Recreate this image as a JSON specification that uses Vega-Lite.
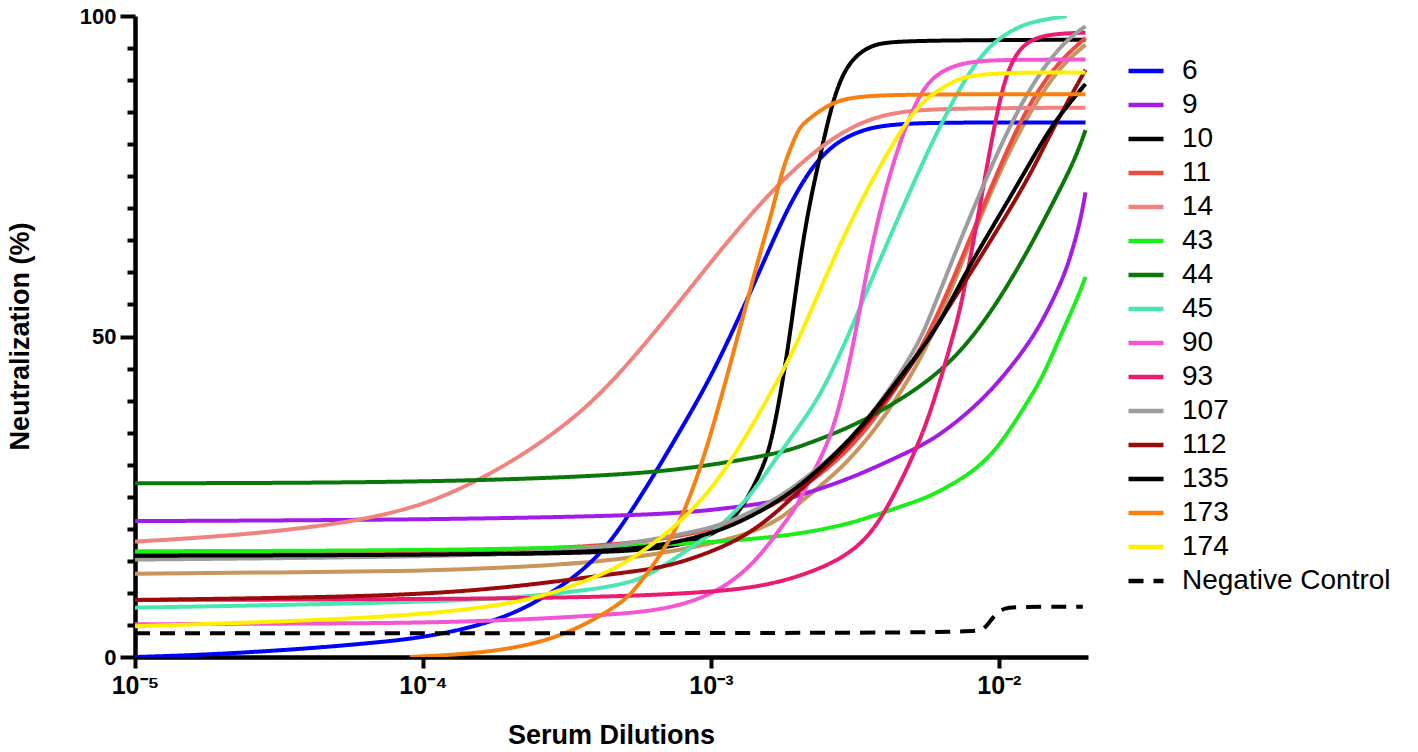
{
  "$schema": "https://vega.github.io/schema/vega-lite/v6.json",
  "width": 953,
  "height": 641,
  "autosize": {"type": "none"},
  "padding": {"left": 135, "top": 16, "right": 330, "bottom": 95},
  "background": "white",
  "datasets": {
    "curves": [
      {"s": "6", "x": 1e-5, "y": 0}, {"s": "6", "x": 1.681e-5, "y": 0.3}, {"s": "6", "x": 3.74e-5, "y": 1.2}, {"s": "6", "x": 7.092e-5, "y": 2.3},
      {"s": "6", "x": 9.763e-5, "y": 3.0}, {"s": "6", "x": 1.456e-4, "y": 4.5}, {"s": "6", "x": 2.172e-4, "y": 7.0}, {"s": "6", "x": 3.238e-4, "y": 11.8},
      {"s": "6", "x": 4.117e-4, "y": 16.0}, {"s": "6", "x": 4.831e-4, "y": 20.0}, {"s": "6", "x": 6.14e-4, "y": 27.3}, {"s": "6", "x": 7.994e-4, "y": 36.0},
      {"s": "6", "x": 1.016e-3, "y": 44.2}, {"s": "6", "x": 1.3335e-3, "y": 55.6}, {"s": "6", "x": 1.737e-3, "y": 67.5}, {"s": "6", "x": 1.989e-3, "y": 72.6},
      {"s": "6", "x": 2.26e-3, "y": 76.6}, {"s": "6", "x": 2.589e-3, "y": 79.4}, {"s": "6", "x": 2.966e-3, "y": 81.2}, {"s": "6", "x": 3.565e-3, "y": 82.6},
      {"s": "6", "x": 4.532e-3, "y": 83.2}, {"s": "6", "x": 6.759e-3, "y": 83.4}, {"s": "6", "x": 0.02, "y": 83.4},

      {"s": "9", "x": 1e-5, "y": 21.2}, {"s": "9", "x": 9.763e-5, "y": 21.4}, {"s": "9", "x": 4.831e-4, "y": 22.0}, {"s": "9", "x": 9.158e-4, "y": 22.6},
      {"s": "9", "x": 1.737e-3, "y": 24.3}, {"s": "9", "x": 2.087e-3, "y": 25.4}, {"s": "9", "x": 2.738e-3, "y": 27.1}, {"s": "9", "x": 3.565e-3, "y": 29.2},
      {"s": "9", "x": 4.642e-3, "y": 31.6}, {"s": "9", "x": 5.76e-3, "y": 33.6}, {"s": "9", "x": 7.32e-3, "y": 37.0}, {"s": "9", "x": 9.533e-3, "y": 41.7},
      {"s": "9", "x": 1.251e-2, "y": 48.4}, {"s": "9", "x": 1.4216e-2, "y": 52.6}, {"s": "9", "x": 1.54e-2, "y": 55.7}, {"s": "9", "x": 1.722e-2, "y": 60.4},
      {"s": "9", "x": 1.9104e-2, "y": 67.5}, {"s": "9", "x": 0.02, "y": 72.5},

      {"s": "10", "x": 1e-5, "y": 15.8}, {"s": "10", "x": 9.763e-5, "y": 15.9}, {"s": "10", "x": 4.117e-4, "y": 16.2}, {"s": "10", "x": 7.034e-4, "y": 17.0},
      {"s": "10", "x": 9.158e-4, "y": 18.3}, {"s": "10", "x": 1.075e-3, "y": 19.8}, {"s": "10", "x": 1.261e-3, "y": 22.5}, {"s": "10", "x": 1.48e-3, "y": 28.5},
      {"s": "10", "x": 1.603e-3, "y": 32.5}, {"s": "10", "x": 1.737e-3, "y": 40.5}, {"s": "10", "x": 1.88e-3, "y": 50.0}, {"s": "10", "x": 2.037e-3, "y": 62.0},
      {"s": "10", "x": 2.207e-3, "y": 71.0}, {"s": "10", "x": 2.39e-3, "y": 78.0}, {"s": "10", "x": 2.652e-3, "y": 87.0}, {"s": "10", "x": 2.966e-3, "y": 92.6},
      {"s": "10", "x": 3.565e-3, "y": 95.6}, {"s": "10", "x": 4.532e-3, "y": 96.2}, {"s": "10", "x": 0.02, "y": 96.3},

      {"s": "11", "x": 1e-5, "y": 16.0}, {"s": "11", "x": 9.763e-5, "y": 16.2}, {"s": "11", "x": 4.117e-4, "y": 17.2}, {"s": "11", "x": 7.034e-4, "y": 18.5},
      {"s": "11", "x": 1.049e-3, "y": 20.0}, {"s": "11", "x": 1.366e-3, "y": 22.0}, {"s": "11", "x": 1.737e-3, "y": 24.3}, {"s": "11", "x": 2.087e-3, "y": 26.5},
      {"s": "11", "x": 2.738e-3, "y": 30.5}, {"s": "11", "x": 3.565e-3, "y": 36.0}, {"s": "11", "x": 4.642e-3, "y": 43.5}, {"s": "11", "x": 5.76e-3, "y": 50.5},
      {"s": "11", "x": 7.499e-3, "y": 62.5}, {"s": "11", "x": 9.842e-3, "y": 75.5}, {"s": "11", "x": 1.212e-2, "y": 84.5}, {"s": "11", "x": 1.468e-2, "y": 90.5},
      {"s": "11", "x": 1.722e-2, "y": 94.0}, {"s": "11", "x": 0.02, "y": 96.6},

      {"s": "14", "x": 1e-5, "y": 18.0}, {"s": "14", "x": 1.681e-5, "y": 18.6}, {"s": "14", "x": 2.942e-5, "y": 19.5}, {"s": "14", "x": 4.87e-5, "y": 20.7},
      {"s": "14", "x": 7.092e-5, "y": 22.0}, {"s": "14", "x": 9.763e-5, "y": 23.7}, {"s": "14", "x": 1.2409e-4, "y": 25.5}, {"s": "14", "x": 1.668e-4, "y": 28.3},
      {"s": "14", "x": 2.172e-4, "y": 31.3}, {"s": "14", "x": 2.828e-4, "y": 34.8}, {"s": "14", "x": 3.711e-4, "y": 39.0}, {"s": "14", "x": 4.831e-4, "y": 44.3},
      {"s": "14", "x": 5.995e-4, "y": 49.2}, {"s": "14", "x": 7.805e-4, "y": 55.5}, {"s": "14", "x": 1.016e-3, "y": 62.0}, {"s": "14", "x": 1.3335e-3, "y": 68.4},
      {"s": "14", "x": 1.737e-3, "y": 74.0}, {"s": "14", "x": 2.26e-3, "y": 78.7}, {"s": "14", "x": 2.966e-3, "y": 82.4}, {"s": "14", "x": 3.863e-3, "y": 84.5},
      {"s": "14", "x": 5.029e-3, "y": 85.3}, {"s": "14", "x": 7.32e-3, "y": 85.6}, {"s": "14", "x": 0.02, "y": 85.7},

      {"s": "43", "x": 1e-5, "y": 16.5}, {"s": "43", "x": 9.763e-5, "y": 16.6}, {"s": "43", "x": 4.831e-4, "y": 17.2}, {"s": "43", "x": 9.158e-4, "y": 17.8},
      {"s": "43", "x": 1.737e-3, "y": 18.7}, {"s": "43", "x": 2.738e-3, "y": 20.3}, {"s": "43", "x": 3.565e-3, "y": 21.8}, {"s": "43", "x": 4.642e-3, "y": 23.6},
      {"s": "43", "x": 5.76e-3, "y": 25.0}, {"s": "43", "x": 7.32e-3, "y": 27.6}, {"s": "43", "x": 8.387e-3, "y": 29.5}, {"s": "43", "x": 9.533e-3, "y": 31.8},
      {"s": "43", "x": 1.092e-2, "y": 35.4}, {"s": "43", "x": 1.251e-2, "y": 39.6}, {"s": "43", "x": 1.4216e-2, "y": 43.7}, {"s": "43", "x": 1.6284e-2, "y": 49.9},
      {"s": "43", "x": 1.8652e-2, "y": 55.7}, {"s": "43", "x": 0.02, "y": 59.3},

      {"s": "44", "x": 1e-5, "y": 27.1}, {"s": "44", "x": 9.763e-5, "y": 27.2}, {"s": "44", "x": 4.831e-4, "y": 28.3}, {"s": "44", "x": 9.158e-4, "y": 29.6},
      {"s": "44", "x": 1.737e-3, "y": 31.8}, {"s": "44", "x": 2.087e-3, "y": 33.0}, {"s": "44", "x": 2.738e-3, "y": 35.0}, {"s": "44", "x": 3.565e-3, "y": 37.4},
      {"s": "44", "x": 4.642e-3, "y": 40.4}, {"s": "44", "x": 5.76e-3, "y": 43.3}, {"s": "44", "x": 7.32e-3, "y": 47.4}, {"s": "44", "x": 9.533e-3, "y": 54.1},
      {"s": "44", "x": 1.251e-2, "y": 63.0}, {"s": "44", "x": 1.54e-2, "y": 70.8}, {"s": "44", "x": 1.8357e-2, "y": 77.5}, {"s": "44", "x": 0.02, "y": 82.2},

      {"s": "45", "x": 1e-5, "y": 7.7}, {"s": "45", "x": 3.188e-5, "y": 8.1}, {"s": "45", "x": 9.763e-5, "y": 8.6}, {"s": "45", "x": 2.172e-4, "y": 9.2},
      {"s": "45", "x": 4.831e-4, "y": 11.0}, {"s": "45", "x": 6.14e-4, "y": 12.8}, {"s": "45", "x": 7.994e-4, "y": 16.2}, {"s": "45", "x": 1.049e-3, "y": 19.8},
      {"s": "45", "x": 1.366e-3, "y": 25.0}, {"s": "45", "x": 1.603e-3, "y": 29.6}, {"s": "45", "x": 1.989e-3, "y": 35.5}, {"s": "45", "x": 2.39e-3, "y": 40.6},
      {"s": "45", "x": 2.966e-3, "y": 49.5}, {"s": "45", "x": 3.565e-3, "y": 58.3}, {"s": "45", "x": 4.642e-3, "y": 70.2}, {"s": "45", "x": 5.76e-3, "y": 79.6},
      {"s": "45", "x": 6.759e-3, "y": 85.8}, {"s": "45", "x": 7.499e-3, "y": 89.5}, {"s": "45", "x": 8.59e-3, "y": 93.6}, {"s": "45", "x": 9.842e-3, "y": 96.3},
      {"s": "45", "x": 1.118e-2, "y": 97.8}, {"s": "45", "x": 1.281e-2, "y": 99.1}, {"s": "45", "x": 1.722e-2, "y": 100},

      {"s": "90", "x": 1e-5, "y": 5.1}, {"s": "90", "x": 3.188e-5, "y": 5.2}, {"s": "90", "x": 9.763e-5, "y": 5.3}, {"s": "90", "x": 2.172e-4, "y": 5.8},
      {"s": "90", "x": 4.117e-4, "y": 6.5}, {"s": "90", "x": 7.034e-4, "y": 7.3}, {"s": "90", "x": 1.049e-3, "y": 10.0}, {"s": "90", "x": 1.366e-3, "y": 14.0},
      {"s": "90", "x": 1.603e-3, "y": 17.8}, {"s": "90", "x": 1.737e-3, "y": 20.0}, {"s": "90", "x": 1.989e-3, "y": 23.4}, {"s": "90", "x": 2.26e-3, "y": 28.7},
      {"s": "90", "x": 2.589e-3, "y": 33.9}, {"s": "90", "x": 2.872e-3, "y": 41.0}, {"s": "90", "x": 3.213e-3, "y": 51.5}, {"s": "90", "x": 3.565e-3, "y": 63.0},
      {"s": "90", "x": 4.084e-3, "y": 73.9}, {"s": "90", "x": 4.642e-3, "y": 81.7}, {"s": "90", "x": 5.317e-3, "y": 88.0}, {"s": "90", "x": 6.091e-3, "y": 91.1},
      {"s": "90", "x": 7.499e-3, "y": 92.8}, {"s": "90", "x": 1.008e-2, "y": 93.2}, {"s": "90", "x": 0.02, "y": 93.2},

      {"s": "93", "x": 1e-5, "y": 8.9}, {"s": "93", "x": 9.763e-5, "y": 9.0}, {"s": "93", "x": 4.117e-4, "y": 9.3}, {"s": "93", "x": 9.158e-4, "y": 10.0},
      {"s": "93", "x": 1.603e-3, "y": 11.0}, {"s": "93", "x": 2.738e-3, "y": 14.6}, {"s": "93", "x": 3.565e-3, "y": 18.8}, {"s": "93", "x": 4.183e-3, "y": 24.0},
      {"s": "93", "x": 4.909e-3, "y": 30.2}, {"s": "93", "x": 5.76e-3, "y": 37.5}, {"s": "93", "x": 7.034e-3, "y": 51.0}, {"s": "93", "x": 7.499e-3, "y": 56.0},
      {"s": "93", "x": 8.59e-3, "y": 70.2}, {"s": "93", "x": 9.842e-3, "y": 85.3}, {"s": "93", "x": 1.092e-2, "y": 93.0}, {"s": "93", "x": 1.281e-2, "y": 96.7},
      {"s": "93", "x": 1.668e-2, "y": 97.3}, {"s": "93", "x": 0.02, "y": 97.4},

      {"s": "107", "x": 1e-5, "y": 15.2}, {"s": "107", "x": 3.188e-5, "y": 15.4}, {"s": "107", "x": 9.763e-5, "y": 15.7}, {"s": "107", "x": 2.172e-4, "y": 16.1},
      {"s": "107", "x": 4.117e-4, "y": 17.0}, {"s": "107", "x": 7.034e-4, "y": 18.7}, {"s": "107", "x": 1.049e-3, "y": 20.3}, {"s": "107", "x": 1.366e-3, "y": 22.5},
      {"s": "107", "x": 1.737e-3, "y": 25.0}, {"s": "107", "x": 2.087e-3, "y": 27.6}, {"s": "107", "x": 2.738e-3, "y": 31.8}, {"s": "107", "x": 3.565e-3, "y": 37.4},
      {"s": "107", "x": 4.642e-3, "y": 44.8}, {"s": "107", "x": 5.317e-3, "y": 49.5}, {"s": "107", "x": 5.76e-3, "y": 53.0}, {"s": "107", "x": 7.499e-3, "y": 66.1},
      {"s": "107", "x": 9.842e-3, "y": 78.6}, {"s": "107", "x": 1.212e-2, "y": 86.9}, {"s": "107", "x": 1.468e-2, "y": 92.7}, {"s": "107", "x": 1.722e-2, "y": 96.3},
      {"s": "107", "x": 0.02, "y": 98.4},

      {"s": "112", "x": 1e-5, "y": 8.9}, {"s": "112", "x": 3.188e-5, "y": 9.2}, {"s": "112", "x": 9.763e-5, "y": 9.7}, {"s": "112", "x": 2.172e-4, "y": 11.0},
      {"s": "112", "x": 4.831e-4, "y": 13.1}, {"s": "112", "x": 7.034e-4, "y": 14.0}, {"s": "112", "x": 1.049e-3, "y": 16.7}, {"s": "112", "x": 1.366e-3, "y": 19.3},
      {"s": "112", "x": 1.737e-3, "y": 23.0}, {"s": "112", "x": 2.087e-3, "y": 26.5}, {"s": "112", "x": 2.738e-3, "y": 31.2}, {"s": "112", "x": 3.565e-3, "y": 37.0},
      {"s": "112", "x": 4.642e-3, "y": 43.5}, {"s": "112", "x": 5.76e-3, "y": 50.0}, {"s": "112", "x": 7.499e-3, "y": 58.0}, {"s": "112", "x": 9.842e-3, "y": 66.5},
      {"s": "112", "x": 1.281e-2, "y": 75.0}, {"s": "112", "x": 1.54e-2, "y": 82.5}, {"s": "112", "x": 0.02, "y": 91.6},

      {"s": "135", "x": 1e-5, "y": 15.8}, {"s": "135", "x": 9.763e-5, "y": 15.9}, {"s": "135", "x": 4.117e-4, "y": 16.3}, {"s": "135", "x": 7.034e-4, "y": 17.5},
      {"s": "135", "x": 1.049e-3, "y": 19.5}, {"s": "135", "x": 1.366e-3, "y": 21.8}, {"s": "135", "x": 1.737e-3, "y": 24.5}, {"s": "135", "x": 2.087e-3, "y": 27.1},
      {"s": "135", "x": 2.738e-3, "y": 31.8}, {"s": "135", "x": 3.565e-3, "y": 37.4}, {"s": "135", "x": 4.642e-3, "y": 44.3}, {"s": "135", "x": 6.091e-3, "y": 51.0},
      {"s": "135", "x": 7.499e-3, "y": 59.3}, {"s": "135", "x": 9.842e-3, "y": 68.2}, {"s": "135", "x": 1.281e-2, "y": 77.0}, {"s": "135", "x": 1.54e-2, "y": 83.3},
      {"s": "135", "x": 0.02, "y": 89.4},

      {"s": "173", "x": 9.013e-5, "y": 0}, {"s": "173", "x": 1.668e-4, "y": 0.6}, {"s": "173", "x": 2.828e-4, "y": 2.6}, {"s": "173", "x": 4.117e-4, "y": 6.3},
      {"s": "173", "x": 4.831e-4, "y": 8.4}, {"s": "173", "x": 5.36e-4, "y": 10.0}, {"s": "173", "x": 7.034e-4, "y": 17.2}, {"s": "173", "x": 8.254e-4, "y": 23.4},
      {"s": "173", "x": 9.92e-4, "y": 33.9}, {"s": "173", "x": 1.231e-3, "y": 49.5}, {"s": "173", "x": 1.48e-3, "y": 63.0}, {"s": "173", "x": 1.603e-3, "y": 68.2},
      {"s": "173", "x": 1.737e-3, "y": 74.5}, {"s": "173", "x": 1.836e-3, "y": 78.0}, {"s": "173", "x": 1.989e-3, "y": 81.8}, {"s": "173", "x": 2.087e-3, "y": 83.3},
      {"s": "173", "x": 2.589e-3, "y": 86.4}, {"s": "173", "x": 3.112e-3, "y": 87.4}, {"s": "173", "x": 4.532e-3, "y": 87.8}, {"s": "173", "x": 0.02, "y": 87.8},

      {"s": "174", "x": 1e-5, "y": 4.8}, {"s": "174", "x": 3.188e-5, "y": 5.5}, {"s": "174", "x": 9.763e-5, "y": 6.5}, {"s": "174", "x": 2.172e-4, "y": 8.4},
      {"s": "174", "x": 3.238e-4, "y": 10.9}, {"s": "174", "x": 4.117e-4, "y": 12.8}, {"s": "174", "x": 4.831e-4, "y": 14.2}, {"s": "174", "x": 6.14e-4, "y": 17.2},
      {"s": "174", "x": 7.994e-4, "y": 21.4}, {"s": "174", "x": 1.049e-3, "y": 27.1}, {"s": "174", "x": 1.366e-3, "y": 35.4}, {"s": "174", "x": 1.737e-3, "y": 43.7},
      {"s": "174", "x": 2.037e-3, "y": 49.8}, {"s": "174", "x": 2.738e-3, "y": 63.5}, {"s": "174", "x": 3.565e-3, "y": 73.9}, {"s": "174", "x": 4.642e-3, "y": 82.7},
      {"s": "174", "x": 5.446e-3, "y": 86.9}, {"s": "174", "x": 6.759e-3, "y": 89.5}, {"s": "174", "x": 7.499e-3, "y": 90.5}, {"s": "174", "x": 1.008e-2, "y": 91.2},
      {"s": "174", "x": 0.02, "y": 91.2},

      {"s": "Negative Control", "x": 1e-5, "y": 3.7}, {"s": "Negative Control", "x": 8.254e-3, "y": 3.7}, {"s": "Negative Control", "x": 8.799e-3, "y": 4.2},
      {"s": "Negative Control", "x": 9.306e-3, "y": 5.5}, {"s": "Negative Control", "x": 9.842e-3, "y": 6.9}, {"s": "Negative Control", "x": 1.049e-2, "y": 7.6},
      {"s": "Negative Control", "x": 1.109e-2, "y": 7.85}, {"s": "Negative Control", "x": 1.957e-2, "y": 7.85},

      {"s": "tan", "x": 1e-5, "y": 13.0}, {"s": "tan", "x": 3.188e-5, "y": 13.2}, {"s": "tan", "x": 9.763e-5, "y": 13.4}, {"s": "tan", "x": 2.172e-4, "y": 14.0},
      {"s": "tan", "x": 4.831e-4, "y": 15.1}, {"s": "tan", "x": 9.158e-4, "y": 17.2}, {"s": "tan", "x": 1.366e-3, "y": 19.3}, {"s": "tan", "x": 1.737e-3, "y": 21.4},
      {"s": "tan", "x": 2.087e-3, "y": 24.5}, {"s": "tan", "x": 2.738e-3, "y": 28.7}, {"s": "tan", "x": 3.565e-3, "y": 34.3}, {"s": "tan", "x": 4.642e-3, "y": 41.7},
      {"s": "tan", "x": 5.76e-3, "y": 49.0}, {"s": "tan", "x": 7.499e-3, "y": 61.9}, {"s": "tan", "x": 9.842e-3, "y": 74.9}, {"s": "tan", "x": 1.281e-2, "y": 85.3},
      {"s": "tan", "x": 1.668e-2, "y": 92.7}, {"s": "tan", "x": 0.02, "y": 95.5}
    ]
  },
  "data": {"name": "curves"},
  "encoding": {
    "x": {
      "field": "x",
      "type": "quantitative",
      "scale": {"type": "log", "domain": [1e-5, 0.0204], "nice": false},
      "axis": {
        "title": "Serum Dilutions",
        "values": [1e-5, 1e-4, 1e-3, 1e-2],
        "labelExpr": "'10' + ['⁻⁵', '⁻⁴', '⁻³', '⁻²'][round(log(datum.value) / LN10) + 5]",
        "grid": false,
        "domainColor": "black",
        "domainWidth": 4.5,
        "tickColor": "black",
        "tickWidth": 4,
        "tickSize": 11,
        "labelFont": "Liberation Sans",
        "labelFontWeight": "bold",
        "labelFontSize": 25,
        "labelColor": "black",
        "labelPadding": 5,
        "labelFlush": false,
        "titleFont": "Liberation Sans",
        "titleFontWeight": "bold",
        "titleFontSize": 27,
        "titleColor": "black",
        "titleX": 476,
        "titleY": 78,
        "titleBaseline": "middle"
      }
    },
    "y": {
      "field": "y",
      "type": "quantitative",
      "scale": {"domain": [0, 100], "nice": false},
      "axis": {
        "title": "Neutralization (%)",
        "values": [0, 5, 10, 15, 20, 25, 30, 35, 40, 45, 50, 55, 60, 65, 70, 75, 80, 85, 90, 95, 100],
        "labelExpr": "datum.value % 50 === 0 ? datum.label : ''",
        "grid": false,
        "domainColor": "black",
        "domainWidth": 4.5,
        "tickColor": "black",
        "tickWidth": 4,
        "tickSize": {"condition": {"test": "datum.value % 50 === 0", "value": 15}, "value": 8},
        "labelFont": "Liberation Sans",
        "labelFontWeight": "bold",
        "labelFontSize": 22,
        "labelColor": "black",
        "labelPadding": 4,
        "labelFlush": false,
        "titleFont": "Liberation Sans",
        "titleFontWeight": "bold",
        "titleFontSize": 27,
        "titleColor": "black",
        "titleX": -115,
        "titleY": 320,
        "titleBaseline": "middle",
        "titleAngle": 270
      }
    }
  },
  "layer": [
    {
      "transform": [{"filter": "datum.s === 'tan'"}],
      "mark": {"type": "line", "interpolate": "basis", "strokeWidth": 4, "color": "#C8955A", "clip": true},
      "encoding": {}
    },
    {
      "transform": [{"filter": "datum.s !== 'tan'"}],
      "mark": {"type": "line", "interpolate": "basis", "strokeWidth": 4, "clip": true},
      "encoding": {
        "color": {
          "field": "s",
          "type": "nominal",
          "scale": {
            "domain": ["6", "9", "10", "11", "14", "43", "44", "45", "90", "93", "107", "112", "135", "173", "174", "Negative Control"],
            "range": ["#0000FF", "#A21CE8", "#000000", "#EE4B40", "#F0837E", "#18F018", "#087808", "#48E6B0", "#F356D4", "#EB1A72", "#9C9C9C", "#9A0A0A", "#000000", "#F88010", "#FFF000", "#000000"]
          },
          "legend": {
            "title": null,
            "orient": "none",
            "legendX": 991,
            "legendY": 35,
            "symbolType": "stroke",
            "symbolSize": 1225,
            "symbolStrokeWidth": 4.5,
            "labelFont": "Liberation Sans",
            "labelFontSize": 28,
            "labelColor": "black",
            "labelOffset": 16,
            "labelBaseline": "middle",
            "rowPadding": 0,
            "labelLimit": 400
          }
        },
        "strokeDash": {
          "field": "s",
          "type": "nominal",
          "scale": {
            "domain": ["6", "9", "10", "11", "14", "43", "44", "45", "90", "93", "107", "112", "135", "173", "174", "Negative Control"],
            "range": [[1, 0], [1, 0], [1, 0], [1, 0], [1, 0], [1, 0], [1, 0], [1, 0], [1, 0], [1, 0], [1, 0], [1, 0], [1, 0], [1, 0], [1, 0], [15, 10]]
          },
          "legend": {"title": null}
        }
      }
    }
  ],
  "config": {
    "view": {"stroke": null},
    "font": "Liberation Sans"
  }
}
